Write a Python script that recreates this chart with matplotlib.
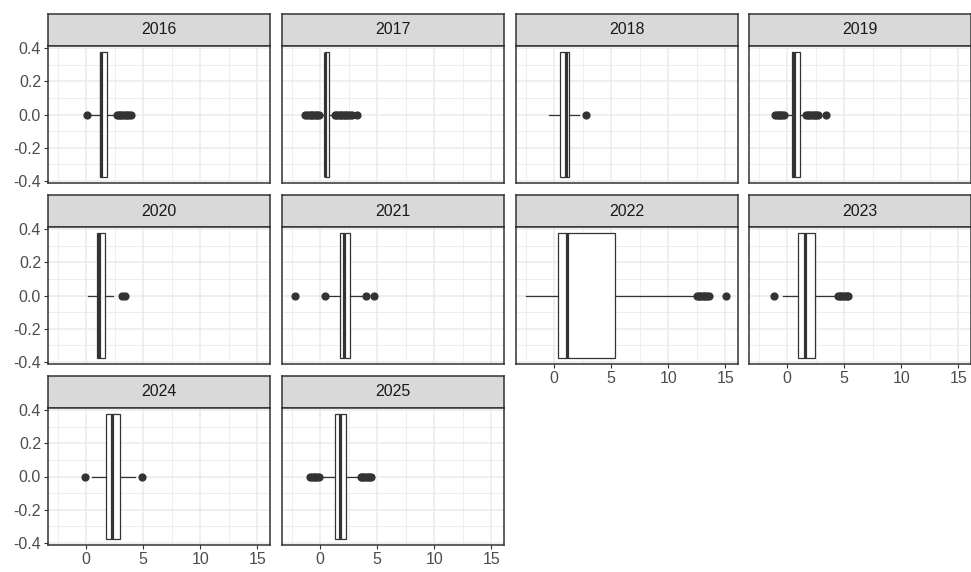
import numpy as np
import matplotlib
matplotlib.use("Agg")
import matplotlib.pyplot as plt

plt.rcParams['font.family'] = ['Liberation Sans', 'DejaVu Sans']

# Five-number summaries per year (boxes drawn horizontally at y = 0)
years = [2016, 2017, 2018, 2019, 2020, 2021, 2022, 2023, 2024, 2025]
q1 = [1.22, 0.41, 0.52, 0.40, 0.93, 1.74, 0.32, 0.95, 1.74, 1.30]
med = [1.30, 0.46, 1.00, 0.55, 1.10, 2.10, 1.09, 1.60, 2.26, 1.71]
q3 = [1.83, 0.78, 1.33, 1.10, 1.65, 2.60, 5.28, 2.40, 2.96, 2.30]
whislo = [0.35, 0.00, -0.50, -0.10, 0.12, 0.55, -2.50, -0.40, 0.50, 0.06]
whishi = [2.50, 1.20, 2.17, 1.60, 2.37, 3.65, 12.40, 4.37, 4.26, 3.19]
fliers = [
    [0.05, 2.70, 2.85, 3.00, 3.15, 3.30, 3.45, 3.60, 3.75, 3.90],
    [-1.30, -1.15, -1.00, -0.85, -0.70, -0.55, -0.40, -0.25, -0.10,
     1.25, 1.40, 1.55, 1.70, 1.85, 2.00, 2.15, 2.30, 2.45, 2.60, 2.75, 3.25],
    [2.78],
    [-1.05, -0.90, -0.75, -0.60, -0.45, -0.30,
     1.65, 1.80, 1.95, 2.10, 2.25, 2.40, 2.55, 2.70, 3.42],
    [3.10, 3.40],
    [-2.17, 0.43, 4.00, 4.70],
    [12.50, 12.65, 12.80, 12.95, 13.10, 13.25, 13.40, 13.60, 15.03],
    [-1.13, 4.46, 4.60, 4.75, 4.90, 5.05, 5.20, 5.30],
    [-0.09, 4.85],
    [-0.87, -0.72, -0.57, -0.42, -0.27, -0.12,
     3.54, 3.70, 3.85, 4.00, 4.15, 4.30, 4.47],
]

x_ticks = [0, 5, 10, 15]
x_minor = [-2.5, 2.5, 7.5, 12.5]
y_ticks = [-0.4, -0.2, 0.0, 0.2, 0.4]
y_minor = [-0.3, -0.1, 0.1, 0.3]

W, H = 971, 572
fig = plt.figure(figsize=(W / 100, H / 100), dpi=100)

col_left = [48, 282, 516, 749]
panel_w = 222
row_strip_top = [14, 195, 376]
strip_h = 32
panel_h = 137

dark = '#333333'
grid_col = '#EBEBEB'

for i, yr in enumerate(years):
    r, c = divmod(i, 4)
    left = col_left[c]
    top = row_strip_top[r]

    # strip
    sax = fig.add_axes([left / W, 1 - (top + strip_h) / H, panel_w / W, strip_h / H])
    sax.set_facecolor('#D9D9D9')
    sax.set_xticks([])
    sax.set_yticks([])
    for sp in sax.spines.values():
        sp.set_color(dark)
        sp.set_linewidth(1.1)
    sax.text(0.5, 0.5, str(yr), ha='center', va='center', fontsize=11.5,
             color='#1A1A1A', transform=sax.transAxes)

    # panel
    ax = fig.add_axes([left / W, 1 - (top + strip_h + panel_h) / H,
                       panel_w / W, panel_h / H])
    ax.set_xlim(-3.35, 16.1)
    ax.set_ylim(-0.4125, 0.4125)
    ax.set_xticks(x_ticks)
    ax.set_xticks(x_minor, minor=True)
    ax.set_yticks(y_ticks)
    ax.set_yticks(y_minor, minor=True)
    ax.grid(which='major', color=grid_col, linewidth=1.1)
    ax.grid(which='minor', color=grid_col, linewidth=0.6)
    ax.set_axisbelow(True)
    for sp in ax.spines.values():
        sp.set_color(dark)
        sp.set_linewidth(1.1)

    stats = [{
        'med': med[i], 'q1': q1[i], 'q3': q3[i],
        'whislo': whislo[i], 'whishi': whishi[i], 'fliers': fliers[i],
    }]
    ax.bxp(stats, positions=[0], widths=0.75, orientation='horizontal',
           showcaps=False, patch_artist=True,
           boxprops=dict(facecolor='white', edgecolor=dark, linewidth=0.9),
           medianprops=dict(color=dark, linewidth=2.3, solid_capstyle='butt'),
           whiskerprops=dict(color=dark, linewidth=0.9),
           flierprops=dict(marker='o', markerfacecolor=dark, markeredgecolor=dark,
                           markersize=4.9, linestyle='none'),
           manage_ticks=False, zorder=3)

    ax.tick_params(which='minor', length=0)
    ax.tick_params(which='major', length=3, width=0.8, color=dark,
                   labelcolor='#4D4D4D', labelsize=11.5, pad=2)
    show_x = (r == 2) or (r == 1 and c >= 2)
    show_y = (c == 0)
    if show_x:
        ax.set_xticklabels([str(t) for t in x_ticks])
    else:
        ax.tick_params(axis='x', which='major', length=0, labelbottom=False)
    if show_y:
        ax.set_yticklabels(['-0.4', '-0.2', '0.0', '0.2', '0.4'])
    else:
        ax.tick_params(axis='y', which='major', length=0, labelleft=False)

fig.savefig('out.png', dpi=100, facecolor='white')
